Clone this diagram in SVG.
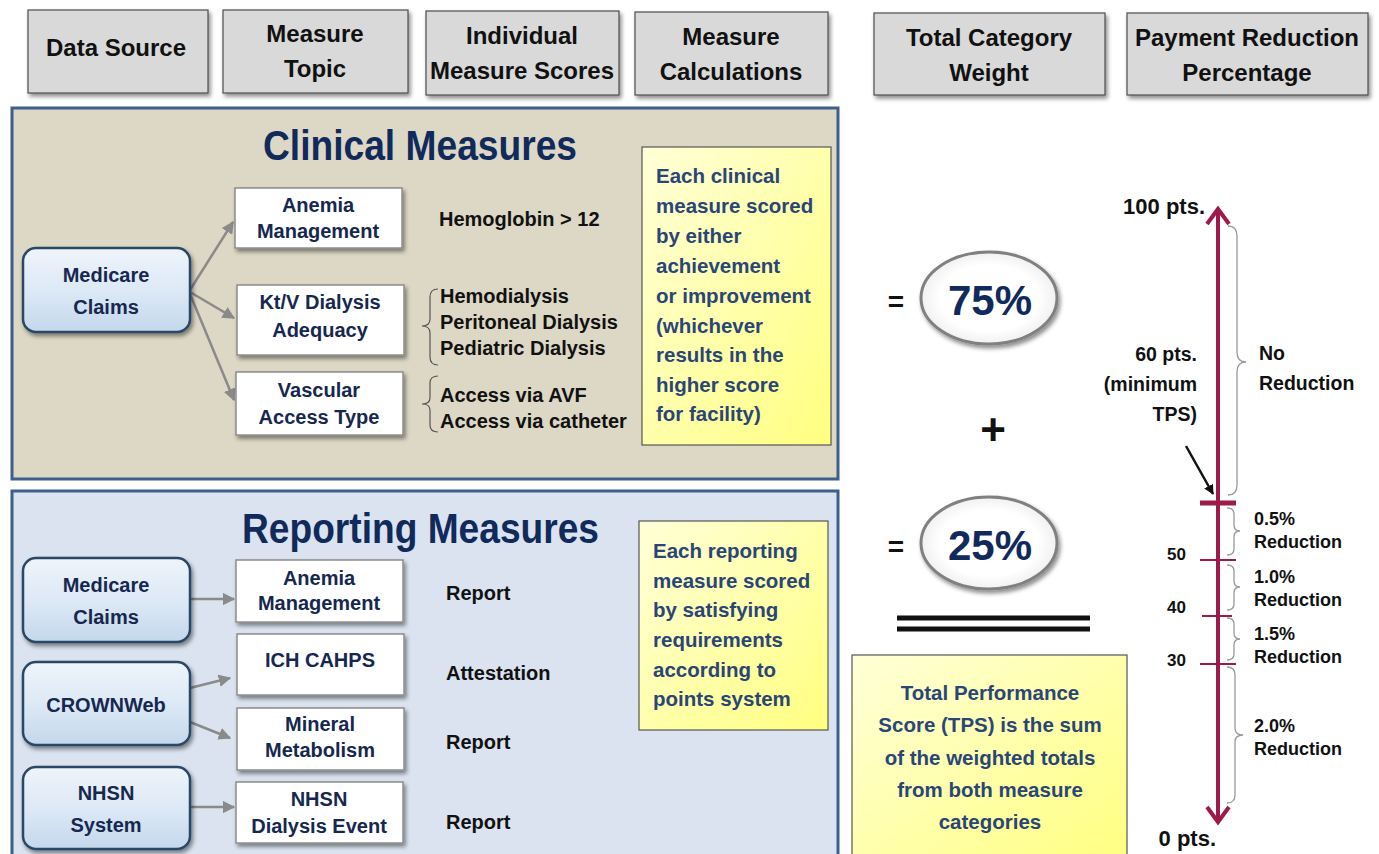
<svg xmlns="http://www.w3.org/2000/svg" width="1379" height="854" viewBox="0 0 1379 854">
<defs>
<filter id="sh" x="-10%" y="-10%" width="125%" height="130%">
<feDropShadow dx="2" dy="3" stdDeviation="2" flood-color="#000" flood-opacity="0.45"/>
</filter>
<linearGradient id="src" x1="0" y1="0" x2="0" y2="1">
<stop offset="0" stop-color="#eef4fb"/>
<stop offset="0.5" stop-color="#dde9f6"/>
<stop offset="1" stop-color="#c4d7ec"/>
</linearGradient>
<linearGradient id="yel" x1="0" y1="0" x2="1" y2="1">
<stop offset="0" stop-color="#ffffd8"/>
<stop offset="1" stop-color="#ffff80"/>
</linearGradient>
<radialGradient id="ell" cx="0.5" cy="0.5" r="0.6">
<stop offset="0.6" stop-color="#ffffff"/>
<stop offset="1" stop-color="#e6e6e6"/>
</radialGradient>
<marker id="ga" viewBox="0 0 10 10" refX="9" refY="5" markerWidth="5" markerHeight="5" orient="auto" markerUnits="strokeWidth">
<path d="M0,0 L10,5 L0,10 z" fill="#8a8a8a"/>
</marker>
<marker id="ka" viewBox="0 0 10 10" refX="9" refY="5" markerWidth="4" markerHeight="4" orient="auto" markerUnits="strokeWidth">
<path d="M0,0 L10,5 L0,10 z" fill="#111"/>
</marker>
</defs>
<style>
text{font-family:"Liberation Sans",Arial,sans-serif;font-weight:bold}
.hdr rect{fill:#d9d9d9;stroke:#4d4d4d;stroke-width:1.2}
.hdr text{font-size:24px;fill:#111;text-anchor:middle}
.src rect{fill:url(#src);stroke:#2b4766;stroke-width:2.5}
.src text,.topic text{font-size:20px;fill:#16284f;text-anchor:middle}
.topic rect{fill:#fff;stroke:#8c8c8c;stroke-width:1.5}
.score{font-size:20px;fill:#111}
.title{font-size:42px;fill:#102a5c}
.note rect{fill:url(#yel);stroke:#555;stroke-width:1.2}
.note text{font-size:20.5px;fill:#2a4677}
.conn line{stroke:#8a8a8a;stroke-width:2.5;marker-end:url(#ga)}
.brace{fill:none;stroke:#555;stroke-width:1.2}
.gbrace{fill:none;stroke:#999;stroke-width:1.3}
.ax{stroke:#9e1a4a;fill:none}
.lab{font-size:19.5px;fill:#111}
.red{font-size:18px;fill:#111}
.tick{font-size:17px;fill:#111;text-anchor:end}
</style>

<!-- header row -->
<g id="h-datasource" class="hdr"><rect x="28" y="10" width="180" height="83" filter="url(#sh)"/><text x="116" y="56">Data Source</text></g>
<g id="h-topic" class="hdr"><rect x="223" y="10" width="185" height="83" filter="url(#sh)"/><text x="315" y="42">Measure</text><text x="315" y="77">Topic</text></g>
<g id="h-scores" class="hdr"><rect x="426" y="11" width="193" height="84" filter="url(#sh)"/><text x="522" y="44">Individual</text><text x="522" y="79">Measure Scores</text></g>
<g id="h-calc" class="hdr"><rect x="635" y="12" width="193" height="83" filter="url(#sh)"/><text x="731" y="45">Measure</text><text x="731" y="80">Calculations</text></g>
<g id="h-weight" class="hdr"><rect x="874" y="13" width="231" height="82" filter="url(#sh)"/><text x="989" y="46">Total Category</text><text x="989" y="81">Weight</text></g>
<g id="h-payment" class="hdr"><rect x="1127" y="13" width="241" height="82" filter="url(#sh)"/><text x="1247" y="46">Payment Reduction</text><text x="1247" y="81">Percentage</text></g>

<!-- panels -->
<g id="clinical-panel">
<rect x="12" y="108" width="826" height="371" fill="#ddd8c5" stroke="#3c5f8c" stroke-width="3"/>
<text class="title" x="263" y="160" textLength="314" lengthAdjust="spacingAndGlyphs">Clinical Measures</text>
</g>
<g id="reporting-panel">
<rect x="12" y="491" width="826" height="370" fill="#dae3ef" stroke="#3c5f8c" stroke-width="3"/>
<text class="title" x="242" y="543" textLength="357" lengthAdjust="spacingAndGlyphs">Reporting Measures</text>
</g>

<!-- connectors -->
<g id="connectors" class="conn">
<line x1="190" y1="290" x2="233" y2="222"/>
<line x1="190" y1="292" x2="234" y2="318"/>
<line x1="190" y1="294" x2="234" y2="400"/>
<line x1="190" y1="599" x2="234" y2="599"/>
<line x1="190" y1="688" x2="230" y2="678"/>
<line x1="190" y1="722" x2="230" y2="738"/>
<line x1="190" y1="807" x2="234" y2="807"/>
</g>

<!-- clinical nodes -->
<g id="c-medicare" class="src"><rect x="23" y="248" width="167" height="84" rx="13" filter="url(#sh)"/><text x="106" y="282">Medicare</text><text x="106" y="314">Claims</text></g>
<g id="c-anemia" class="topic"><rect x="235" y="188" width="167" height="60" filter="url(#sh)"/><text x="318" y="212">Anemia</text><text x="318" y="238">Management</text></g>
<g id="c-ktv" class="topic"><rect x="237" y="285" width="167" height="70" filter="url(#sh)"/><text x="320" y="309">Kt/V Dialysis</text><text x="320" y="337">Adequacy</text></g>
<g id="c-vascular" class="topic"><rect x="236" y="372" width="167" height="63" filter="url(#sh)"/><text x="319" y="397">Vascular</text><text x="319" y="424">Access Type</text></g>

<g id="c-scores">
<text class="score" x="439" y="226">Hemoglobin &gt; 12</text>
<path class="brace" d="M438,289 Q430,289 430,297 L430,319 Q430,326 422,326 Q430,326 430,333 L430,357 Q430,365 438,365"/>
<text class="score" x="440" y="303">Hemodialysis</text>
<text class="score" x="440" y="329">Peritoneal Dialysis</text>
<text class="score" x="440" y="355">Pediatric Dialysis</text>
<path class="brace" d="M438,376 Q430,376 430,383 L430,398 Q430,404 422,404 Q430,404 430,410 L430,425 Q430,432 438,432"/>
<text class="score" x="440" y="402">Access via AVF</text>
<text class="score" x="440" y="428">Access via catheter</text>
</g>

<g id="c-note" class="note">
<rect x="642" y="147" width="189" height="298"/>
<text x="656" y="183">Each clinical</text>
<text x="656" y="213">measure scored</text>
<text x="656" y="243">by either</text>
<text x="656" y="273">achievement</text>
<text x="656" y="303">or improvement</text>
<text x="656" y="333">(whichever</text>
<text x="656" y="362">results in the</text>
<text x="656" y="392">higher score</text>
<text x="656" y="421">for facility)</text>
</g>

<!-- reporting nodes -->
<g id="r-medicare" class="src"><rect x="23" y="558" width="167" height="84" rx="13" filter="url(#sh)"/><text x="106" y="592">Medicare</text><text x="106" y="624">Claims</text></g>
<g id="r-crownweb" class="src"><rect x="23" y="662" width="167" height="83" rx="13" filter="url(#sh)"/><text x="106" y="712">CROWNWeb</text></g>
<g id="r-nhsn" class="src"><rect x="23" y="767" width="167" height="82" rx="13" filter="url(#sh)"/><text x="106" y="800">NHSN</text><text x="106" y="832">System</text></g>
<g id="r-anemia" class="topic"><rect x="236" y="560" width="167" height="62" filter="url(#sh)"/><text x="319" y="585">Anemia</text><text x="319" y="610">Management</text></g>
<g id="r-ich" class="topic"><rect x="237" y="634" width="167" height="61" filter="url(#sh)"/><text x="320" y="667">ICH CAHPS</text></g>
<g id="r-mineral" class="topic"><rect x="237" y="708" width="167" height="62" filter="url(#sh)"/><text x="320" y="731">Mineral</text><text x="320" y="757">Metabolism</text></g>
<g id="r-nhsnevent" class="topic"><rect x="236" y="782" width="167" height="61" filter="url(#sh)"/><text x="319" y="806">NHSN</text><text x="319" y="833">Dialysis Event</text></g>

<g id="r-scores">
<text class="score" x="446" y="600">Report</text>
<text class="score" x="446" y="680">Attestation</text>
<text class="score" x="446" y="749">Report</text>
<text class="score" x="446" y="829">Report</text>
</g>

<g id="r-note" class="note">
<rect x="639" y="521" width="189" height="209"/>
<text x="653" y="558">Each reporting</text>
<text x="653" y="588">measure scored</text>
<text x="653" y="617">by satisfying</text>
<text x="653" y="647">requirements</text>
<text x="653" y="677">according to</text>
<text x="653" y="706">points system</text>
</g>

<!-- weights -->
<g id="w-clinical">
<text x="896" y="311" font-size="28" fill="#111" text-anchor="middle">=</text>
<ellipse cx="989" cy="298" rx="68" ry="46" fill="url(#ell)" stroke="#808080" stroke-width="3" filter="url(#sh)"/>
<text x="990" y="315" font-size="42" fill="#102a5c" text-anchor="middle">75%</text>
</g>
<g id="plus"><text x="993" y="445" font-size="44" fill="#111" text-anchor="middle">+</text></g>
<g id="w-reporting">
<text x="896" y="556" font-size="28" fill="#111" text-anchor="middle">=</text>
<ellipse cx="989" cy="543" rx="68" ry="46" fill="url(#ell)" stroke="#808080" stroke-width="3" filter="url(#sh)"/>
<text x="990" y="560" font-size="42" fill="#102a5c" text-anchor="middle">25%</text>
</g>
<g id="sumline">
<line x1="897" y1="618" x2="1090" y2="618" stroke="#111" stroke-width="5"/>
<line x1="897" y1="629" x2="1090" y2="629" stroke="#111" stroke-width="5"/>
</g>
<g id="tps" class="note">
<rect x="852" y="655" width="275" height="210"/>
<text x="990" y="700" text-anchor="middle">Total Performance</text>
<text x="990" y="732" text-anchor="middle">Score (TPS) is the sum</text>
<text x="990" y="765" text-anchor="middle">of the weighted totals</text>
<text x="990" y="797" text-anchor="middle">from both measure</text>
<text x="990" y="829" text-anchor="middle">categories</text>
</g>

<!-- scale -->
<g id="scale">
<line class="ax" x1="1218" y1="210" x2="1218" y2="820" stroke-width="4"/>
<polyline class="ax" points="1207,224 1218,209 1229,224" stroke-width="4"/>
<polyline class="ax" points="1207,807 1218,822 1229,807" stroke-width="4"/>
<line class="ax" x1="1200" y1="503" x2="1236" y2="503" stroke-width="5"/>
<line class="ax" x1="1200" y1="560" x2="1236" y2="560" stroke-width="2"/>
<line class="ax" x1="1202" y1="616" x2="1232" y2="616" stroke-width="2"/>
<line class="ax" x1="1200" y1="664" x2="1236" y2="664" stroke-width="2"/>
<text x="1205" y="214" font-size="22" fill="#111" text-anchor="end">100 pts.</text>
<text x="1216" y="846" font-size="22" fill="#111" text-anchor="end">0 pts.</text>
<text class="lab" x="1197" y="361" text-anchor="end">60 pts.</text>
<text class="lab" x="1197" y="391" text-anchor="end">(minimum</text>
<text class="lab" x="1197" y="421" text-anchor="end">TPS)</text>
<line x1="1186" y1="446" x2="1213" y2="494" stroke="#111" stroke-width="2.5" marker-end="url(#ka)"/>
<text class="tick" x="1186" y="560">50</text>
<text class="tick" x="1186" y="613">40</text>
<text class="tick" x="1186" y="666">30</text>
<path class="gbrace" d="M1228,226 Q1237,226 1237,236 L1237,352 Q1237,362 1246,362 Q1237,362 1237,372 L1237,485 Q1237,495 1228,495"/>
<text class="lab" x="1259" y="360">No</text>
<text class="lab" x="1259" y="390">Reduction</text>
<path class="gbrace" d="M1227,508 Q1234,508 1234,514 L1234,525 Q1234,531 1240,531 Q1234,531 1234,537 L1234,549 Q1234,555 1227,555"/>
<text class="red" x="1254" y="525">0.5%</text>
<text class="red" x="1254" y="548">Reduction</text>
<path class="gbrace" d="M1227,565 Q1234,565 1234,571 L1234,581 Q1234,587 1240,587 Q1234,587 1234,593 L1234,604 Q1234,610 1227,610"/>
<text class="red" x="1254" y="583">1.0%</text>
<text class="red" x="1254" y="606">Reduction</text>
<path class="gbrace" d="M1227,618 Q1234,618 1234,624 L1234,633 Q1234,639 1240,639 Q1234,639 1234,645 L1234,654 Q1234,660 1227,660"/>
<text class="red" x="1254" y="640">1.5%</text>
<text class="red" x="1254" y="663">Reduction</text>
<path class="gbrace" d="M1227,667 Q1235,667 1235,675 L1235,728 Q1235,735 1243,735 Q1235,735 1235,742 L1235,795 Q1235,803 1227,803"/>
<text class="red" x="1254" y="732">2.0%</text>
<text class="red" x="1254" y="755">Reduction</text>
</g>
</svg>
